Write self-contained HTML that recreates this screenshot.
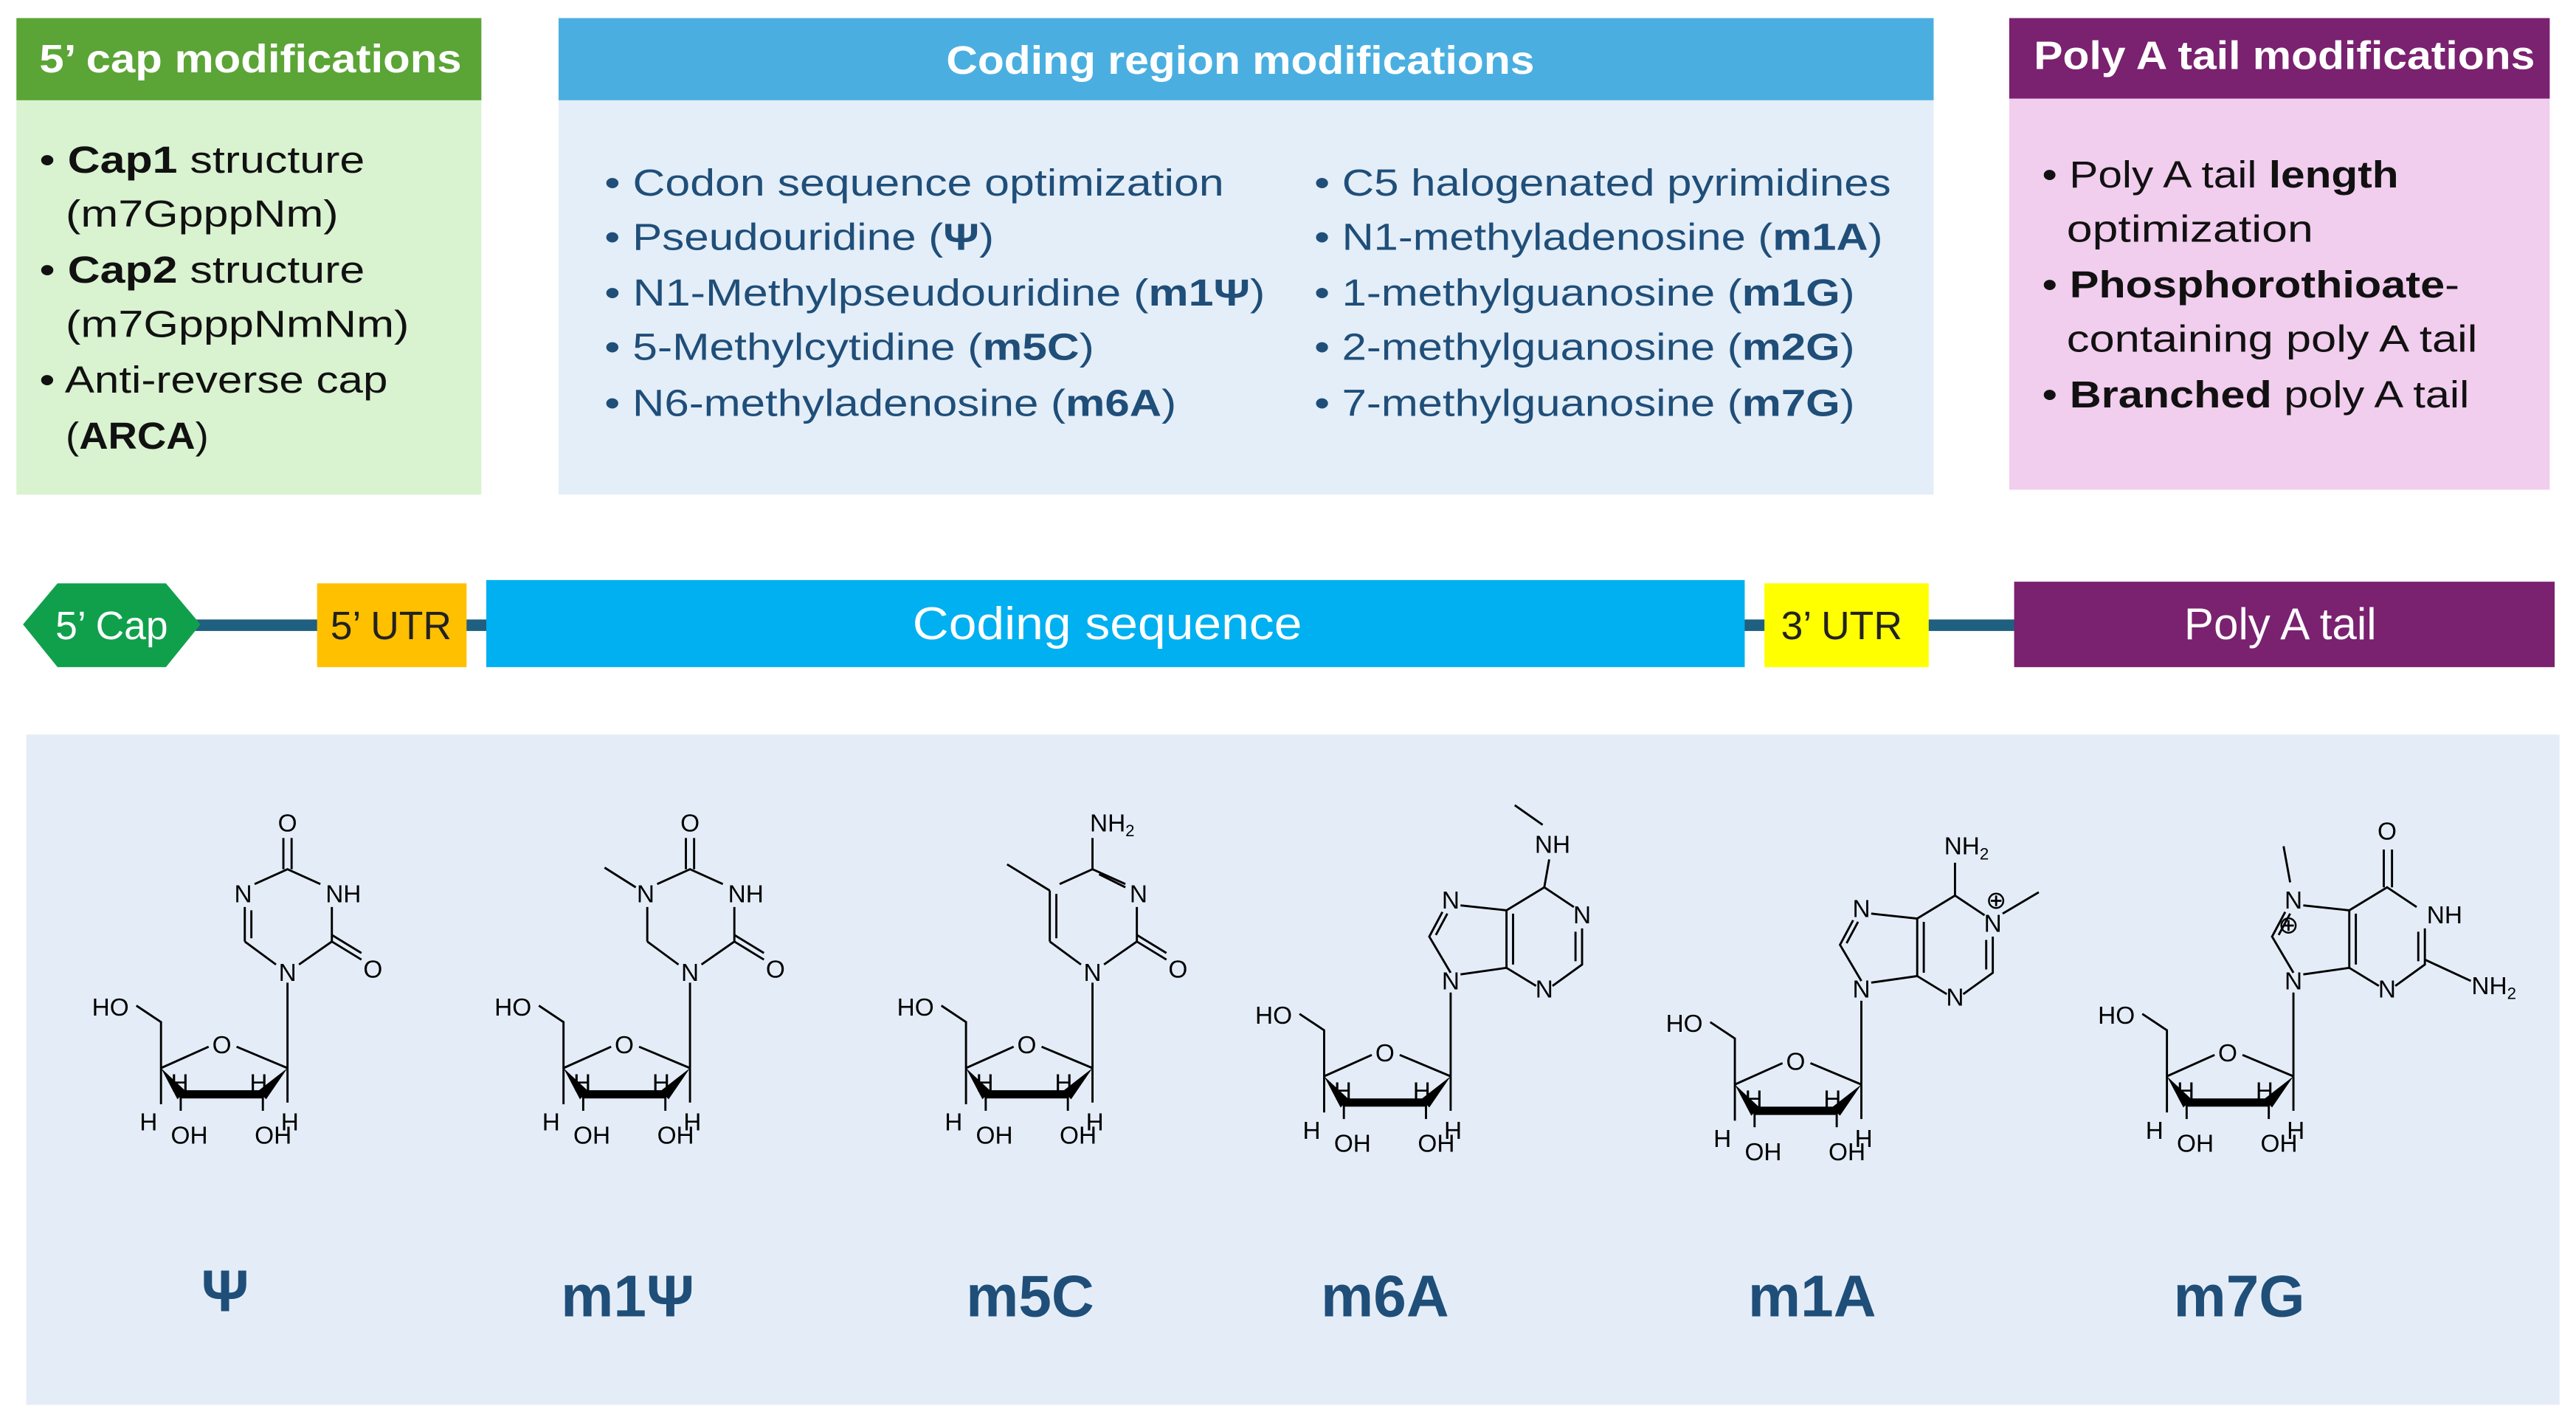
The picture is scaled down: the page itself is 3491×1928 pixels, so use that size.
<!DOCTYPE html>
<html><head><meta charset="utf-8"><style>
html,body{margin:0;padding:0;background:#fff}
svg{display:block}
text{font-family:"Liberation Sans",sans-serif}
.b{font-size:23px;fill:#111}
.c{font-size:23px;fill:#1f4e79}
.ch{font-size:15px;fill:#000}
.lab{font-size:36px;font-weight:bold;fill:#1f4e79;text-anchor:middle}
.bd{stroke:#000;stroke-width:1.3;fill:none}
</style></head><body>
<svg width="3491" height="1928" viewBox="0 0 1568 866" preserveAspectRatio="none" xmlns="http://www.w3.org/2000/svg">
<defs>
<g id="sugar">
 <path class="bd" d="M0,0 L-31,-13 M-48,-13 L-77,0 L-77,-28 L-92,-38 M-77,0 L-77,22 M0,0 L0,21 M-65,16 L-65,26 M-15,16 L-15,26"/>
 <polygon points="-77,0 -67,19 -62,14" fill="#000"/>
 <polygon points="0,0 -18,14 -13,19" fill="#000"/>
 <line x1="-65" y1="16" x2="-15" y2="16" stroke="#000" stroke-width="5"/>
 <text class="ch" x="-40" y="-9" text-anchor="middle">O</text>
 <text class="ch" x="-119" y="-32">HO</text>
 <text class="ch" x="-71" y="14">H</text>
 <text class="ch" x="-23" y="14">H</text>
 <text class="ch" x="-90" y="38">H</text>
 <text class="ch" x="-71" y="46">OH</text>
 <text class="ch" x="-20" y="46">OH</text>
 <text class="ch" x="-4" y="38">H</text>
</g>
<g id="pyr">
 <path class="bd" d="M0,0 L0,-52 M7,-63 L27,-77 L27,-98 M20,-112 L0,-121 L-20,-112 M-7,-63 L-26,-77 M27,-77 L45,-66 M27,-81 L45,-70"/>
 <text class="ch" x="0" y="-53" text-anchor="middle">N</text>
 <text class="ch" x="52" y="-55" text-anchor="middle">O</text>
</g>
<g id="topO">
 <path class="bd" d="M-2.5,-121 L-2.5,-140 M2.5,-121 L2.5,-140"/>
 <text class="ch" x="0" y="-144" text-anchor="middle">O</text>
</g>
<g id="pur">
 <path class="bd" d="M0,0 L0,-51 M0,-63 L-13,-85 L-5,-100 M-9,-86 L-2,-99 M6,-62 L34,-66 L34,-101 L6,-104 M38,-68 L38,-99 M34,-66 L52,-55 M62,-55 L80,-68 L80,-90 M76,-70 L76,-88 M34,-101 L57,-115 L75,-103"/>
</g>
</defs>

<rect x="10" y="11" width="283" height="290" fill="#d9f2d0"/>
<rect x="10" y="11" width="283" height="50" fill="#5ba436"/>
<text x="24" y="44" textLength="257" lengthAdjust="spacingAndGlyphs" font-size="24" font-weight="bold" fill="#fff">5’ cap modifications</text>
<rect x="340" y="11" width="837" height="290" fill="#e4eef8"/>
<rect x="340" y="11" width="837" height="50" fill="#4aafe0"/>
<text x="576" y="45" textLength="358" lengthAdjust="spacingAndGlyphs" font-size="24" font-weight="bold" fill="#fff">Coding region modifications</text>
<rect x="1223" y="11" width="329" height="287" fill="#f1cdee"/>
<rect x="1223" y="11" width="329" height="49" fill="#7a2170"/>
<text x="1238" y="42" textLength="305" lengthAdjust="spacingAndGlyphs" font-size="24" font-weight="bold" fill="#fff">Poly A tail modifications</text>

<g class="b">
<text x="24" y="105" textLength="198" lengthAdjust="spacingAndGlyphs">• <tspan font-weight="bold">Cap1</tspan> structure</text>
<text x="40" y="138" textLength="166" lengthAdjust="spacingAndGlyphs">(m7GpppNm)</text>
<text x="24" y="172" textLength="198" lengthAdjust="spacingAndGlyphs">• <tspan font-weight="bold">Cap2</tspan> structure</text>
<text x="40" y="205" textLength="209" lengthAdjust="spacingAndGlyphs">(m7GpppNmNm)</text>
<text x="24" y="239" textLength="212" lengthAdjust="spacingAndGlyphs">• Anti-reverse cap</text>
<text x="40" y="273" textLength="87" lengthAdjust="spacingAndGlyphs">(<tspan font-weight="bold">ARCA</tspan>)</text>
</g>
<g class="c">
<text x="368" y="119" textLength="377" lengthAdjust="spacingAndGlyphs">• Codon sequence optimization</text>
<text x="368" y="152" textLength="237" lengthAdjust="spacingAndGlyphs">• Pseudouridine (<tspan font-weight="bold">Ψ</tspan>)</text>
<text x="368" y="186" textLength="402" lengthAdjust="spacingAndGlyphs">• N1-Methylpseudouridine (<tspan font-weight="bold">m1Ψ</tspan>)</text>
<text x="368" y="219" textLength="298" lengthAdjust="spacingAndGlyphs">• 5-Methylcytidine (<tspan font-weight="bold">m5C</tspan>)</text>
<text x="368" y="253" textLength="348" lengthAdjust="spacingAndGlyphs">• N6-methyladenosine (<tspan font-weight="bold">m6A</tspan>)</text>
<text x="800" y="119" textLength="351" lengthAdjust="spacingAndGlyphs">• C5 halogenated pyrimidines</text>
<text x="800" y="152" textLength="346" lengthAdjust="spacingAndGlyphs">• N1-methyladenosine (<tspan font-weight="bold">m1A</tspan>)</text>
<text x="800" y="186" textLength="329" lengthAdjust="spacingAndGlyphs">• 1-methylguanosine (<tspan font-weight="bold">m1G</tspan>)</text>
<text x="800" y="219" textLength="329" lengthAdjust="spacingAndGlyphs">• 2-methylguanosine (<tspan font-weight="bold">m2G</tspan>)</text>
<text x="800" y="253" textLength="329" lengthAdjust="spacingAndGlyphs">• 7-methylguanosine (<tspan font-weight="bold">m7G</tspan>)</text>
</g>
<g class="b">
<text x="1243" y="114" textLength="217" lengthAdjust="spacingAndGlyphs">• Poly A tail <tspan font-weight="bold">length</tspan></text>
<text x="1258" y="147" textLength="150" lengthAdjust="spacingAndGlyphs">optimization</text>
<text x="1243" y="181" textLength="254" lengthAdjust="spacingAndGlyphs">• <tspan font-weight="bold">Phosphorothioate</tspan>-</text>
<text x="1258" y="214" textLength="250" lengthAdjust="spacingAndGlyphs">containing poly A tail</text>
<text x="1243" y="248" textLength="260" lengthAdjust="spacingAndGlyphs">• <tspan font-weight="bold">Branched</tspan> poly A tail</text>
</g>

<rect x="115" y="377" width="1115" height="7" fill="#1f5f80"/>
<polygon points="14,380 35,355 101,355 122,380 101,406 35,406" fill="#10a04c"/>
<text x="68" y="389" text-anchor="middle" font-size="24" fill="#fff">5’ Cap</text>
<rect x="193" y="355" width="91" height="51" fill="#ffc000"/>
<text x="238" y="389" text-anchor="middle" font-size="24" fill="#222">5’ UTR</text>
<rect x="296" y="353" width="766" height="53" fill="#00b0f0"/>
<text x="674" y="389" text-anchor="middle" font-size="28" textLength="237" lengthAdjust="spacingAndGlyphs" fill="#fff">Coding sequence</text>
<rect x="1074" y="355" width="100" height="51" fill="#ffff00"/>
<text x="1121" y="389" text-anchor="middle" font-size="24" fill="#222">3’ UTR</text>
<rect x="1226" y="354" width="329" height="52" fill="#7a2170"/>
<text x="1388" y="389" text-anchor="middle" font-size="27" fill="#fff">Poly A tail</text>

<rect x="16" y="447" width="1542" height="408" fill="#e4edf7"/>

<g transform="translate(175,650)">
 <use href="#sugar"/><use href="#pyr"/><use href="#topO"/>
 <path class="bd" d="M-26,-77 L-26,-98 M-22,-79 L-22,-96"/>
 <text class="ch" x="-27" y="-101" text-anchor="middle">N</text>
 <text class="ch" x="34" y="-101" text-anchor="middle">NH</text>
</g>
<g transform="translate(420,650)">
 <use href="#sugar"/><use href="#pyr"/><use href="#topO"/>
 <path class="bd" d="M-26,-77 L-26,-98 M-33,-110 L-52,-122"/>
 <text class="ch" x="-27" y="-101" text-anchor="middle">N</text>
 <text class="ch" x="34" y="-101" text-anchor="middle">NH</text>
</g>
<g transform="translate(665,650)">
 <use href="#sugar"/><use href="#pyr"/>
 <path class="bd" d="M-26,-77 L-26,-108 M-22,-79 L-22,-106 M-26,-108 L-52,-124 M0,-121 L0,-140 M4,-118 L20,-110"/>
 <text class="ch" x="12" y="-144" text-anchor="middle">NH<tspan font-size="10" dy="3">2</tspan></text>
 <text class="ch" x="28" y="-101" text-anchor="middle">N</text>
</g>
<g transform="translate(883,655)">
 <use href="#sugar"/><use href="#pur"/>
 <path class="bd" d="M57,-115 L60,-132 M56,-153 L39,-165"/>
 <text class="ch" x="0" y="-53" text-anchor="middle">N</text>
 <text class="ch" x="0" y="-102" text-anchor="middle">N</text>
 <text class="ch" x="80" y="-93" text-anchor="middle">N</text>
 <text class="ch" x="57" y="-48" text-anchor="middle">N</text>
 <text class="ch" x="62" y="-136" text-anchor="middle">NH</text>
</g>
<g transform="translate(1133,660)">
 <use href="#sugar"/><use href="#pur"/>
 <path class="bd" d="M57,-115 L57,-135 M86,-104 L108,-117"/>
 <text class="ch" x="0" y="-53" text-anchor="middle">N</text>
 <text class="ch" x="0" y="-102" text-anchor="middle">N</text>
 <text class="ch" x="80" y="-93" text-anchor="middle">N</text>
 <text class="ch" x="82" y="-107" text-anchor="middle" font-size="10">⊕</text>
 <text class="ch" x="57" y="-48" text-anchor="middle">N</text>
 <text class="ch" x="64" y="-140" text-anchor="middle">NH<tspan font-size="10" dy="3">2</tspan></text>
</g>
<g transform="translate(1396,655)">
 <use href="#sugar"/><use href="#pur"/>
 <path class="bd" d="M55,-115 L55,-138 M60,-115 L60,-138 M-2,-118 L-6,-140 M80,-71 L108,-58"/>
 <text class="ch" x="0" y="-53" text-anchor="middle">N</text>
 <text class="ch" x="0" y="-102" text-anchor="middle">N</text>
 <text class="ch" x="-3" y="-87" text-anchor="middle" font-size="10">⊕</text>
 <text class="ch" x="92" y="-93" text-anchor="middle">NH</text>
 <text class="ch" x="57" y="-48" text-anchor="middle">N</text>
 <text class="ch" x="57" y="-144" text-anchor="middle">O</text>
 <text class="ch" x="122" y="-50" text-anchor="middle">NH<tspan font-size="10" dy="3">2</tspan></text>
</g>

<text class="lab" x="137" y="798">Ψ</text>
<text class="lab" x="382" y="801">m1Ψ</text>
<text class="lab" x="627" y="801">m5C</text>
<text class="lab" x="843" y="801">m6A</text>
<text class="lab" x="1103" y="801">m1A</text>
<text class="lab" x="1363" y="801">m7G</text>
</svg>
</body></html>
